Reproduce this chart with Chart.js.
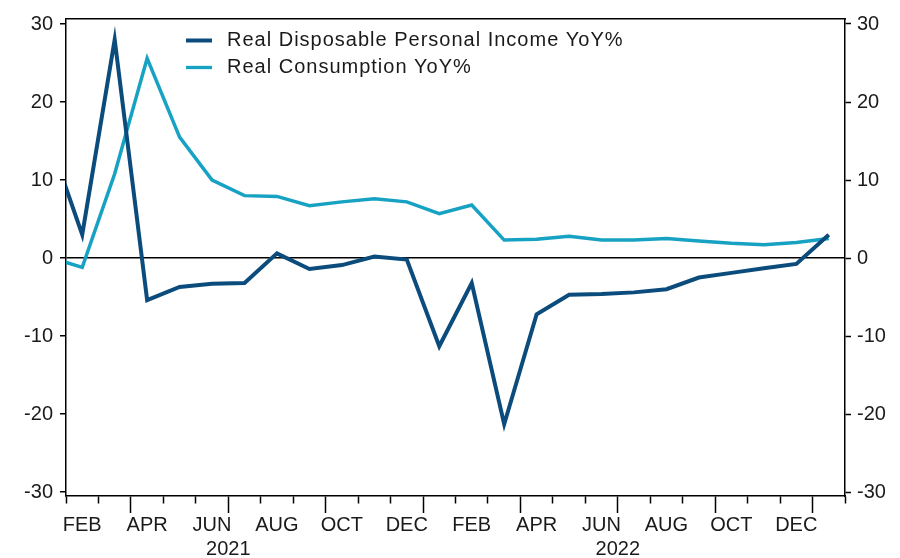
<!DOCTYPE html>
<html>
<head>
<meta charset="utf-8">
<script src="https://cdn.jsdelivr.net/npm/chart.js@4"></script>
<style>
  html, body { margin: 0; padding: 0; background: #fff; }
  #wrap { width: 900px; height: 558px; }
</style>
</head>
<body>
<div id="wrap"><canvas id="chart" width="900" height="558"></canvas></div>
<script>
// Monthly observations, Jan 2021 .. Jan 2023
const months = ['JAN 2021', 'FEB 2021', 'MAR 2021', 'APR 2021', 'MAY 2021', 'JUN 2021',
    'JUL 2021', 'AUG 2021', 'SEP 2021', 'OCT 2021', 'NOV 2021', 'DEC 2021',
    'JAN 2022', 'FEB 2022', 'MAR 2022', 'APR 2022', 'MAY 2022', 'JUN 2022',
    'JUL 2022', 'AUG 2022', 'SEP 2022', 'OCT 2022', 'NOV 2022', 'DEC 2022', 'JAN 2023'];

const incomeYoY = [15.0, 3.0, 28.0, -5.4, -3.7, -3.3, -3.2, 0.6, -1.4, -0.9, 0.2, -0.2,
    -11.3, -3.2, -21.3, -7.2, -4.7, -4.6, -4.4, -4.0, -2.5, -1.9, -1.3, -0.75, 3.0];

const consumptionYoY = [0.1, -1.2, 10.8, 25.6, 15.5, 10.0, 8.0, 7.9, 6.7, 7.2, 7.6, 7.2,
    5.7, 6.8, 2.3, 2.4, 2.8, 2.3, 2.3, 2.5, 2.2, 1.9, 1.7, 2.0, 2.5];

const seriesNames = ['Real Disposable Personal Income YoY%', 'Real Consumption YoY%'];

// Tick labels
const monthNames = ['JAN', 'FEB', 'MAR', 'APR', 'MAY', 'JUN', 'JUL', 'AUG', 'SEP', 'OCT', 'NOV', 'DEC'];
const shownMonths = ['FEB', 'APR', 'JUN', 'AUG', 'OCT', 'DEC'];
const yearLabels = ['2021', '2022'];
const yTicks = [-30, -20, -10, 0, 10, 20, 30];

const FONT = { family: "'Liberation Sans', Arial, sans-serif", size: 20 };
const xMin = 0.5, xMax = months.length - 0.5;

const toPoints = arr => arr.map((v, i) => ({ x: i, y: v }));

const boundaryTicks = () => {
    const t = [];
    for (let b = xMin; b <= xMax; b++) t.push({ value: b });
    return t;
};

// Legend drawn inside the plot area
const innerLegend = {
    id: 'innerLegend',
    afterDatasetsDraw(chart) {
        const ctx = chart.ctx;
        const rows = [40.5, 67.5];
        ctx.save();
        chart.data.datasets.forEach((ds, i) => {
            const y = rows[i];
            ctx.strokeStyle = ds.borderColor;
            ctx.lineWidth = i === 0 ? 4 : 3.3;
            ctx.beginPath();
            ctx.moveTo(186, y);
            ctx.lineTo(212, y);
            ctx.stroke();
            ctx.fillStyle = '#1a1a1a';
            ctx.font = FONT.size + 'px ' + FONT.family;
            ctx.letterSpacing = '1px';
            ctx.textBaseline = 'middle';
            ctx.textAlign = 'left';
            ctx.fillText(ds.label, 227, y);
        });
        ctx.restore();
    }
};

new Chart(document.getElementById('chart'), {
    type: 'line',
    data: {
        datasets: [{
            label: seriesNames[0],
            data: toPoints(incomeYoY),
            borderColor: '#0b4c7d',
            borderWidth: 4,
            yAxisID: 'y'
        }, {
            label: seriesNames[1],
            data: toPoints(consumptionYoY),
            borderColor: '#17a2c4',
            borderWidth: 3.5,
            yAxisID: 'y'
        }]
    },
    options: {
        responsive: false,
        animation: false,
        layout: { padding: 0 },
        elements: {
            point: { radius: 0 },
            line: { tension: 0 }
        },
        plugins: {
            legend: { display: false },
            tooltip: { enabled: false }
        },
        scales: {
            x: {
                type: 'linear',
                position: 'bottom',
                min: xMin,
                max: xMax,
                afterBuildTicks: scale => { scale.ticks = boundaryTicks(); },
                afterFit: scale => { scale.height = 38; },
                border: { color: '#000', width: 1.5 },
                grid: {
                    drawOnChartArea: false,
                    tickLength: 17,
                    tickColor: '#000',
                    tickWidth: 1.5,
                    // long marks at quarter boundaries, short ones elsewhere
                    tickBorderDash: c => ((c.tick.value + 0.5) % 3 === 0) ? [] : [7, 40]
                },
                ticks: {
                    autoSkip: false,
                    maxRotation: 0,
                    padding: 0,
                    labelOffset: 16.2,
                    color: '#1a1a1a',
                    font: FONT,
                    callback: v => {
                        const m = monthNames[(v + 0.5) % 12];
                        return (v + 0.5 < months.length && shownMonths.includes(m)) ? m : '';
                    }
                }
            },
            xYear: {
                type: 'linear',
                position: 'bottom',
                min: xMin,
                max: xMax,
                afterBuildTicks: scale => {
                    scale.ticks = yearLabels.map((y, i) => ({ value: 5.5 + 12 * i }));
                },
                afterFit: scale => { scale.height = 24; },
                border: { display: false },
                grid: { display: false },
                ticks: {
                    autoSkip: false,
                    maxRotation: 0,
                    padding: -5,
                    color: '#1a1a1a',
                    font: FONT,
                    callback: v => yearLabels[Math.round((v - 5.5) / 12)]
                }
            },
            xTop: {
                type: 'linear',
                position: 'top',
                min: xMin,
                max: xMax,
                afterFit: scale => { scale.height = 15; },
                border: { color: '#000', width: 1.5 },
                grid: { drawOnChartArea: false, drawTicks: false },
                ticks: { display: false }
            },
            y: {
                position: 'left',
                min: -30.5,
                max: 30.64,
                afterBuildTicks: scale => { scale.ticks = yTicks.map(v => ({ value: v })); },
                afterFit: scale => { scale.width = 66; },
                border: { color: '#000', width: 1.5 },
                grid: {
                    color: c => c.tick && c.tick.value === 0 ? '#000' : 'rgba(0,0,0,0)',
                    lineWidth: 1.5,
                    tickColor: '#000',
                    tickWidth: 1.5,
                    tickLength: 6
                },
                ticks: { padding: 7, color: '#1a1a1a', font: FONT }
            },
            y2: {
                position: 'right',
                min: -30.5,
                max: 30.64,
                afterBuildTicks: scale => { scale.ticks = yTicks.map(v => ({ value: v })); },
                afterFit: scale => { scale.width = 55; },
                border: { color: '#000', width: 1.5 },
                grid: {
                    drawOnChartArea: false,
                    tickColor: '#000',
                    tickWidth: 1.5,
                    tickLength: 6
                },
                ticks: { padding: 6, color: '#1a1a1a', font: FONT }
            }
        }
    },
    plugins: [innerLegend]
});
</script>
</body>
</html>
